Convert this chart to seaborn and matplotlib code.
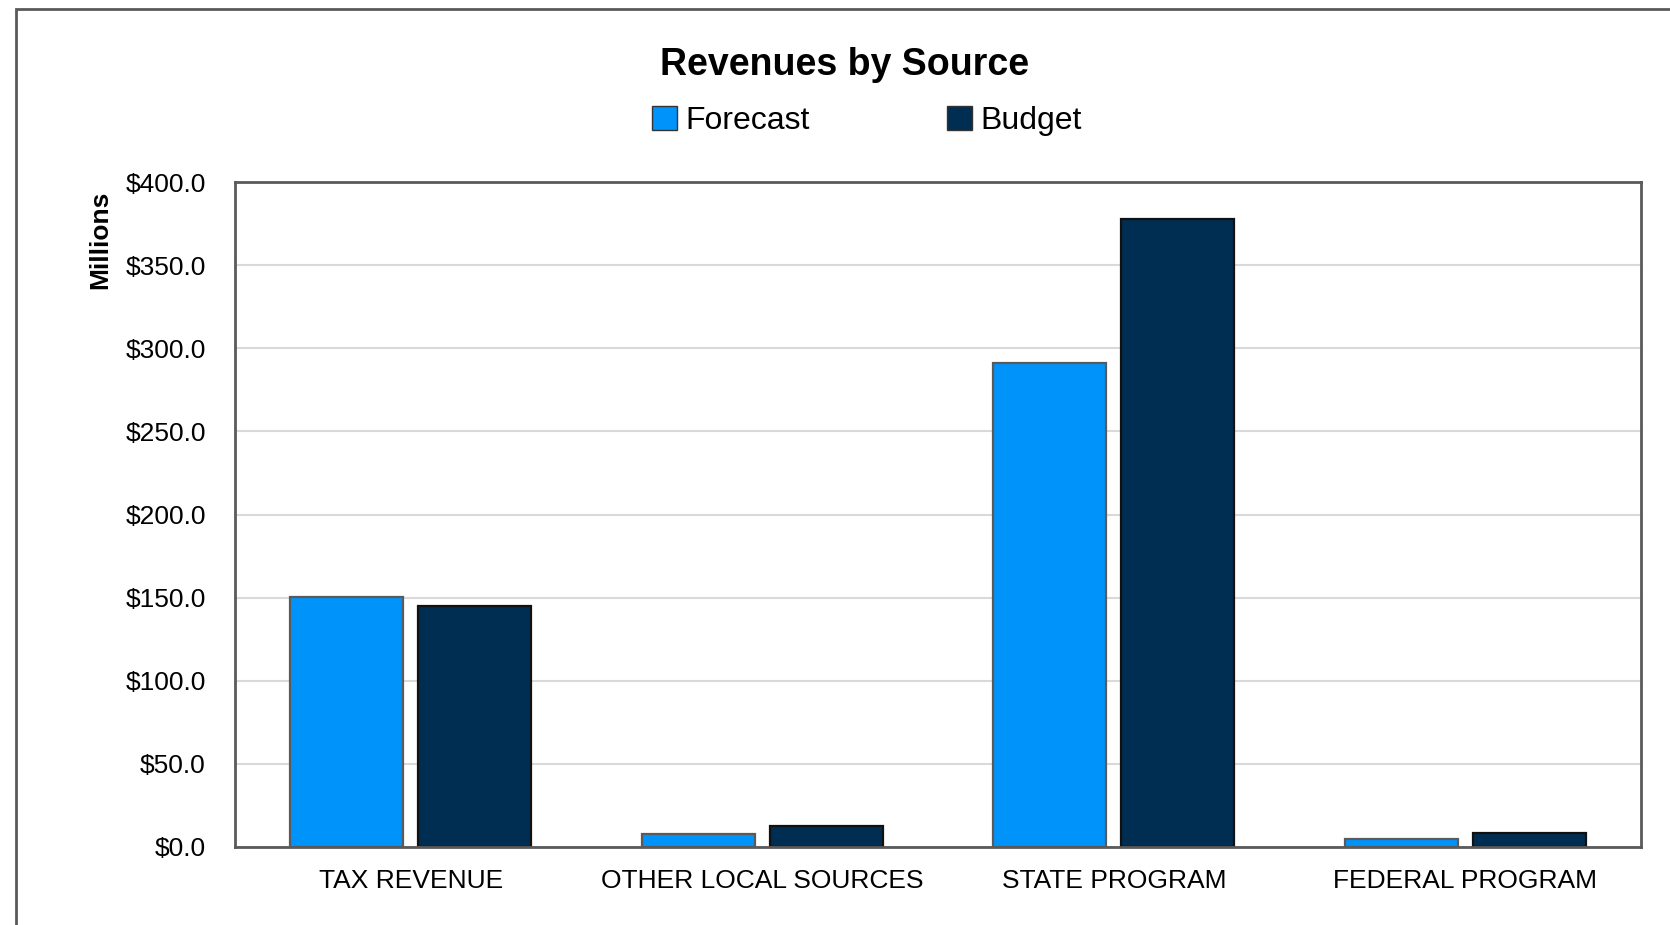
import pandas as pd
import matplotlib.pyplot as plt
import seaborn as sns
from matplotlib.patches import Rectangle
from matplotlib.ticker import FuncFormatter

sources = ["TAX REVENUE", "OTHER LOCAL SOURCES", "STATE PROGRAM", "FEDERAL PROGRAM"]
forecast = [150.6, 7.6, 291.3, 5.0]
budget = [145.1, 12.6, 378.0, 8.6]

df = pd.DataFrame({
    "Source": sources * 2,
    "Series": ["Forecast"] * 4 + ["Budget"] * 4,
    "Value": forecast + budget,
})

sns.set_theme(style="white")
plt.rcParams['font.family'] = ['Liberation Sans', 'DejaVu Sans']
plt.rcParams['text.color'] = 'black'

fig = plt.figure(figsize=(16.7, 9.25), dpi=100)
ax = fig.add_axes([235 / 1670, 1 - 847 / 925, (1641 - 235) / 1670, (847 - 182) / 925])

palette = {"Forecast": "#0094FB", "Budget": "#002E52"}
sns.barplot(data=df, x="Source", y="Value", hue="Series", palette=palette,
            width=0.73, gap=0.12, ax=ax, legend=False, saturation=1)

edges = ["#5a5a5a"] * 4 + ["#111111"] * 4
for patch, ec in zip(ax.patches, edges):
    patch.set_edgecolor(ec)
    patch.set_linewidth(1.6)

ax.set_ylim(0, 400)
ax.set_yticks(range(0, 401, 50))
ax.yaxis.set_major_formatter(FuncFormatter(lambda v, p: f"${v:.1f}"))
ax.yaxis.grid(True, color="#d9d9d9", linewidth=1.5)
ax.set_axisbelow(True)
ax.tick_params(axis="y", labelsize=19, pad=21, length=0, colors="black")
ax.tick_params(axis="x", labelsize=19, pad=16, length=0, colors="black")
ax.set_xlabel("")
ax.set_ylabel("Millions", fontsize=19, fontweight="bold", color="black")
ax.yaxis.set_label_coords(-0.087, 0.913)
for s in ax.spines.values():
    s.set_visible(True)
    s.set_color("#5a5a5a")
    s.set_linewidth(2)

fig.text(0.506, 1 - 65 / 925, "Revenues by Source", ha="center", va="center",
         fontsize=27, fontweight="bold")

handles = [Rectangle((0, 0), 1, 1, facecolor=palette[k], edgecolor="#333333") for k in ["Forecast", "Budget"]]
fig.legend(handles, ["Forecast", "Budget"], loc="center", bbox_to_anchor=(0.519, 1 - 121 / 925),
           ncol=2, frameon=False, fontsize=23, handlelength=0.8, handleheight=0.8,
           handletextpad=0.25, columnspacing=4.3)

fig.add_artist(Rectangle((16 / 1670, -0.1), 1.2, 1 - 9 / 925 + 0.1, transform=fig.transFigure,
                         fill=False, edgecolor="#5a5a5a", linewidth=2))

fig.savefig("out.png", dpi=100)
